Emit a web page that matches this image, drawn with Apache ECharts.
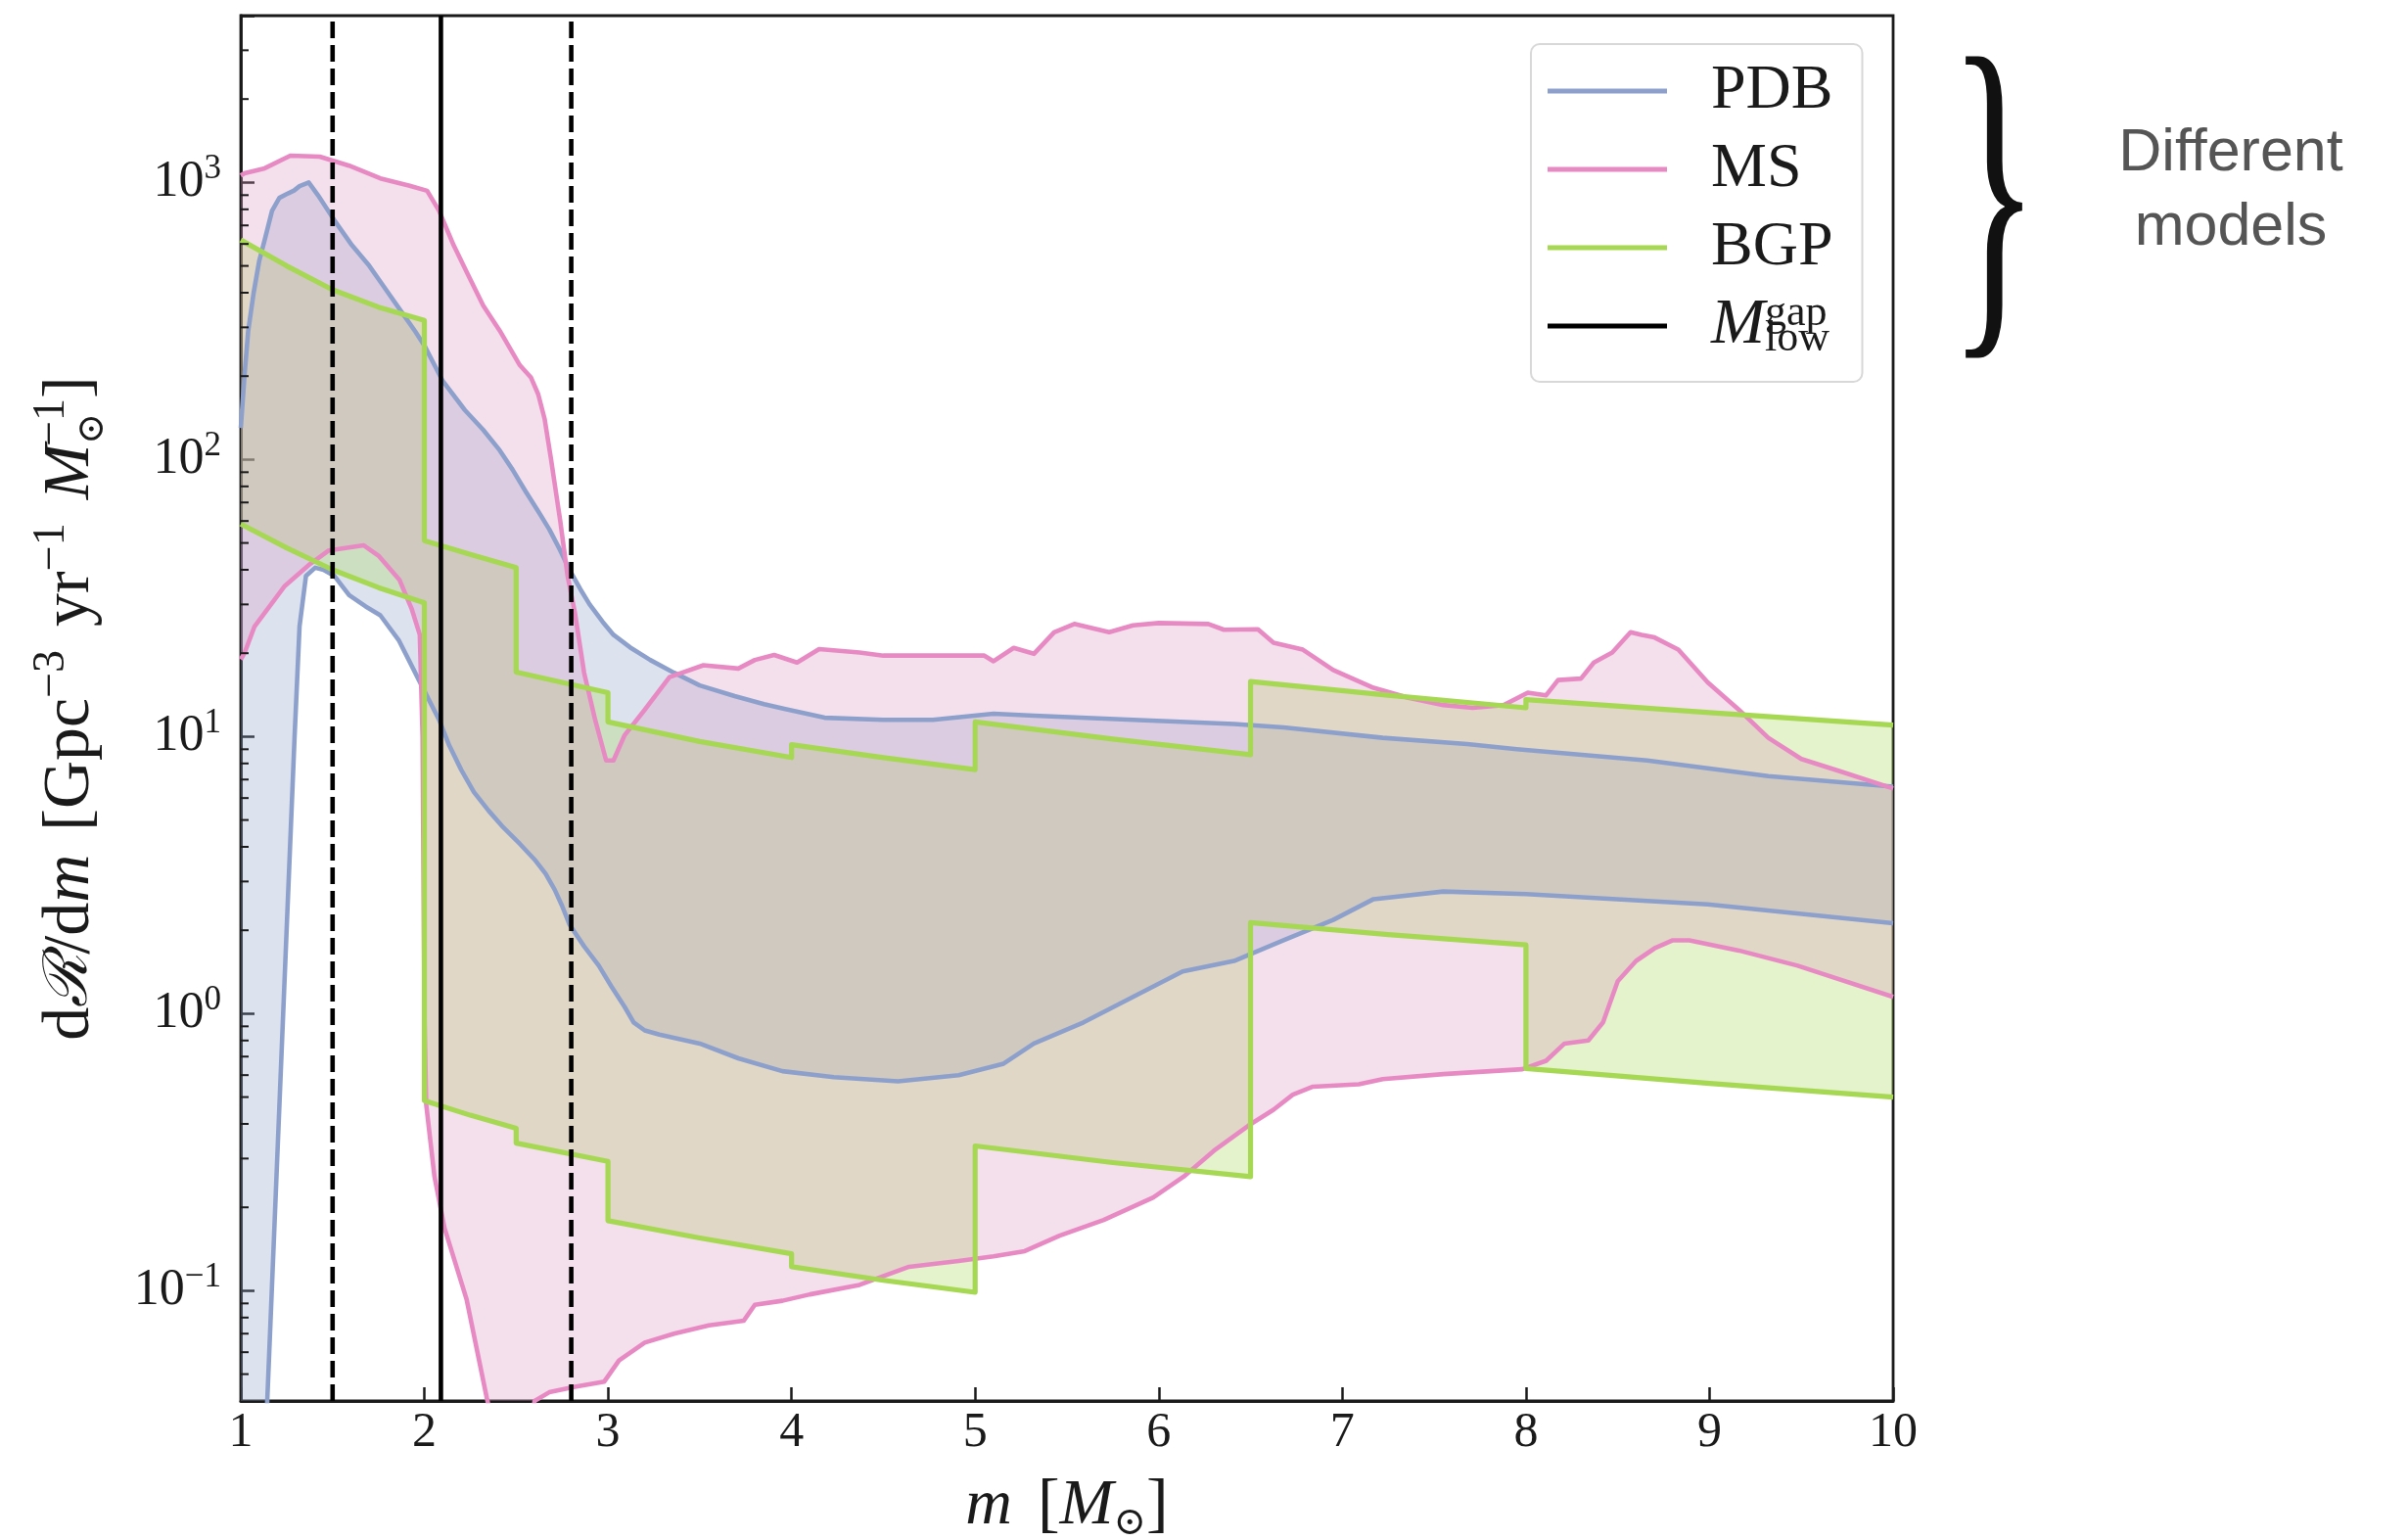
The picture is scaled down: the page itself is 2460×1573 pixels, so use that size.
<!DOCTYPE html>
<html>
<head>
<meta charset="utf-8">
<script src="https://cdn.jsdelivr.net/npm/echarts@6/dist/echarts.min.js"></script>
<style>
  html, body { margin: 0; padding: 0; background: #ffffff; }
  #chart { width: 2460px; height: 1573px; }
</style>
</head>
<body>
<div id="chart"></div>
<script>
// Merger-rate density bands dR/dm for three population models, [m, value] pairs.
const pdbUpper = [
  [1.00,130],[1.02,200],[1.04,290],[1.07,400],[1.10,520],[1.13,620],[1.17,790],[1.21,880],
  [1.26,915],[1.29,935],[1.32,970],[1.37,1000],[1.42,900],[1.51,730],[1.60,600],[1.70,500],
  [1.78,420],[1.87,345],[1.95,290],[2.00,258],[2.10,192],[2.22,151],[2.32,128],[2.41,108],
  [2.48,92],[2.55,77],[2.62,65],[2.68,56],[2.74,47],[2.79,40],[2.85,34],[2.90,30],[2.97,26],
  [3.03,23.3],[3.12,21],[3.23,18.9],[3.36,17],[3.50,15.3],[3.69,14.0],[3.85,13.1],[3.96,12.6],
  [4.18,11.7],[4.50,11.5],[4.77,11.5],[5.10,12.1],[5.32,11.9],[5.86,11.5],[6.41,11.1],
  [6.68,10.8],[7.22,9.9],[7.68,9.4],[7.95,9.0],[8.66,8.2],[9.32,7.2],[10.0,6.6]
];
const pdbLower = [
  [1.00,0.0003],[1.144,0.04],[1.293,10],[1.32,25],[1.355,38],[1.405,40.7],[1.45,40],
  [1.51,38],[1.59,32.4],[1.68,29.5],[1.76,27.4],[1.86,22.3],[1.97,16],[2.08,11.5],
  [2.135,9.3],[2.20,7.6],[2.27,6.3],[2.35,5.4],[2.43,4.7],[2.52,4.1],[2.60,3.6],[2.66,3.2],
  [2.71,2.8],[2.75,2.45],[2.79,2.1],[2.87,1.75],[2.95,1.49],[3.02,1.25],[3.09,1.06],
  [3.14,0.93],[3.20,0.87],[3.28,0.84],[3.50,0.78],[3.71,0.69],[3.95,0.62],[4.23,0.59],
  [4.58,0.57],[4.91,0.60],[5.155,0.66],[5.32,0.78],[5.59,0.93],[5.86,1.15],[6.13,1.42],
  [6.41,1.55],[6.68,1.84],[6.95,2.18],[7.17,2.59],[7.55,2.76],[8.00,2.70],[8.99,2.48],
  [10.0,2.12]
];
const msUpper = [
  [1.00,1060],[1.02,1080],[1.13,1125],[1.27,1250],[1.43,1240],[1.59,1150],[1.76,1035],
  [1.92,973],[2.015,933],[2.08,790],[2.16,592],[2.24,461],[2.32,360],[2.41,292],[2.52,219],
  [2.58,198],[2.62,172],[2.655,140],[2.69,100],[2.74,60],[2.78,38],[2.82,28],[2.87,17],
  [2.93,11.5],[2.99,8.2],[3.03,8.2],[3.09,10.1],[3.20,12.5],[3.335,16.4],[3.52,18.1],
  [3.71,17.6],[3.80,18.9],[3.905,19.7],[4.03,18.5],[4.15,20.7],[4.37,20.1],[4.50,19.6],
  [4.72,19.6],[5.05,19.6],[5.10,18.7],[5.21,20.9],[5.32,19.9],[5.43,23.8],[5.54,25.5],
  [5.73,23.8],[5.86,25.2],[6.00,25.7],[6.27,25.5],[6.355,24.3],[6.54,24.4],[6.625,21.8],
  [6.785,20.6],[6.95,17.4],[7.17,15.0],[7.36,13.8],[7.55,13.0],[7.71,12.7],[7.88,13.0],
  [8.01,14.4],[8.11,14.1],[8.175,16.0],[8.30,16.2],[8.37,18.5],[8.47,20.1],[8.57,23.8],
  [8.63,23.3],[8.70,22.8],[8.83,20.6],[8.99,15.7],[9.16,12.5],[9.32,9.9],[9.50,8.3],
  [9.71,7.5],[10.0,6.5]
];
const msLower = [
  [1.00,19],[1.02,20],[1.075,25],[1.24,35],[1.37,41.6],[1.48,47],[1.67,49],[1.75,45],
  [1.865,36.7],[1.93,29],[1.975,23.3],[1.99,10],[2.00,1.0],[2.01,0.47],[2.055,0.258],
  [2.11,0.168],[2.23,0.093],[2.34,0.041],[2.45,0.02],[2.55,0.025],[2.60,0.04],[2.68,0.043],
  [2.82,0.045],[2.98,0.047],[3.06,0.056],[3.20,0.065],[3.36,0.070],[3.55,0.075],[3.74,0.078],
  [3.80,0.089],[3.95,0.092],[4.10,0.097],[4.37,0.105],[4.64,0.122],[4.91,0.128],[5.10,0.133],
  [5.27,0.139],[5.46,0.158],[5.70,0.18],[5.97,0.217],[6.135,0.258],[6.30,0.32],[6.49,0.395],
  [6.625,0.45],[6.73,0.51],[6.84,0.545],[7.09,0.556],[7.22,0.58],[7.55,0.605],[7.98,0.63],
  [8.11,0.676],[8.21,0.78],[8.34,0.80],[8.42,0.93],[8.50,1.31],[8.60,1.55],[8.70,1.72],
  [8.80,1.84],[8.89,1.84],[9.16,1.69],[9.48,1.49],[10.0,1.15]
];
const bgpUpper = [
  [1.0,620],[1.25,500],[1.5,410],[1.75,355],[2.0,318],[2.0,51],[2.25,45.5],[2.5,40.7],
  [2.5,17.1],[3.0,14.4],[3.0,11.3],[3.5,9.6],[4.0,8.4],[4.0,9.35],[4.5,8.4],[5.0,7.6],
  [5.0,11.3],[5.75,9.8],[6.5,8.6],[6.5,15.8],[7.25,14.1],[8.0,12.7],[8.0,13.6],[9.0,12.2],
  [10.0,11.0]
];
const bgpLower = [
  [1.0,58.5],[1.25,48],[1.5,40],[1.75,34.5],[2.0,30.4],[2.0,0.485],[2.25,0.43],[2.5,0.386],
  [2.5,0.341],[3.0,0.293],[3.0,0.179],[3.5,0.155],[4.0,0.136],[4.0,0.122],[4.5,0.109],
  [5.0,0.0987],[5.0,0.333],[5.75,0.29],[6.5,0.258],[6.5,2.13],[7.25,1.93],[8.0,1.77],
  [8.0,0.634],[9.0,0.56],[10.0,0.50]
];

// Reference masses (vertical lines)
const massLowDashed = 1.5;
const massGapLow = 2.09;
const massHighDashed = 2.8;

// Axis ranges and ticks
const xRange = [1, 10];
const yRange = [0.04, 4000];
const yMajorTicks = [0.1, 1, 10, 100, 1000];
const yMinorTicks = [
  0.05,0.06,0.07,0.08,0.09, 0.2,0.3,0.4,0.5,0.6,0.7,0.8,0.9,
  2,3,4,5,6,7,8,9, 20,30,40,50,60,70,80,90, 200,300,400,500,600,700,800,900, 2000,3000
];

const SERIF = '"Liberation Serif", "DejaVu Serif", serif';
const INK = '#1a1a1a';
const COL = { pdb: '#8da0cb', ms: '#e78ac3', bgp: '#a6d854' };
const FILL = {
  pdb: 'rgba(141,160,203,0.30)',
  ms: 'rgba(218,152,192,0.30)',
  bgp: 'rgba(166,216,84,0.30)'
};

// Shaded credible band between an upper and a lower curve
function band(upper, lower, fill) {
  const ring = upper.concat(lower.slice().reverse());
  return {
    type: 'custom',
    clip: true,
    silent: true,
    z: 1,
    data: ring,
    encode: { x: 0, y: 1 },
    renderItem: function (params, api) {
      if (params.dataIndex !== 0) return null;
      const pts = ring.map(function (p) { return api.coord(p); });
      return { type: 'polygon', shape: { points: pts }, style: { fill: fill, stroke: null } };
    }
  };
}

function edge(name, pts, color, width) {
  return {
    type: 'line', name: name, data: pts, color: color,
    symbol: 'none', showSymbol: false, z: 3, clip: true,
    lineStyle: { color: color, width: width, join: 'round' },
    emphasis: { disabled: true }
  };
}

function vline(name, x, dashed) {
  return {
    type: 'line', name: name, data: [[x, yRange[0]], [x, yRange[1]]], color: '#000',
    symbol: 'none', showSymbol: false, z: 4,
    lineStyle: { color: '#000', width: 4.6, type: dashed ? [17, 7] : 'solid' },
    emphasis: { disabled: true }
  };
}

// Log-axis minor ticks drawn just inside the left spine
const minorTickSeries = {
  type: 'custom', silent: true, z: 5,
  data: yMinorTicks.map(function (v) { return [xRange[0], v]; }),
  encode: { x: 0, y: 1 },
  renderItem: function (params, api) {
    const p = api.coord([api.value(0), api.value(1)]);
    return { type: 'line', shape: { x1: p[0], y1: p[1], x2: p[0] + 8, y2: p[1] },
             style: { stroke: INK, lineWidth: 2 } };
  }
};

const chart = echarts.init(document.getElementById('chart'), null, { renderer: 'canvas' });

const option = {
  animation: false,
  backgroundColor: '#ffffff',
  grid: {
    left: 246, top: 16, width: 1688, height: 1415,
    show: true, borderColor: INK, borderWidth: 2.8, backgroundColor: 'transparent',
    outerBoundsMode: 'none'
  },
  xAxis: {
    type: 'value', min: xRange[0], max: xRange[1], interval: 1,
    axisLine: { onZero: false, lineStyle: { color: INK, width: 2.8 } },
    axisTick: { inside: true, length: 14, lineStyle: { color: INK, width: 2.5 } },
    splitLine: { show: false },
    axisLabel: { margin: 8, color: INK, fontFamily: SERIF, fontSize: 50 },
    name: '{mi|m}{sp| }{d|[}{mi|M}{sb|⊙}{d|]}',
    nameLocation: 'middle', nameGap: 70,
    nameTextStyle: {
      rich: {
        mi: { fontFamily: SERIF, fontStyle: 'italic', fontSize: 66, lineHeight: 76, color: INK },
        sp: { fontFamily: SERIF, fontSize: 66, lineHeight: 76, width: 26 },
        d: { fontFamily: SERIF, fontSize: 68, lineHeight: 76, color: INK },
        sb: { fontFamily: '"DejaVu Serif", serif', fontSize: 40, lineHeight: 40, verticalAlign: 'bottom', color: INK }
      }
    }
  },
  yAxis: {
    type: 'log', logBase: 10, min: yRange[0], max: yRange[1],
    axisLine: { onZero: false, lineStyle: { color: INK, width: 2.8 } },
    axisTick: { inside: true, length: 14, lineStyle: { color: INK, width: 2.5 } },
    splitLine: { show: false },
    axisLabel: {
      margin: 20,
      formatter: function (v) {
        const hit = yMajorTicks.find(function (t) { return Math.abs(Math.log10(v) - Math.log10(t)) < 1e-6; });
        if (hit === undefined) return '';
        const e = Math.round(Math.log10(hit));
        return '{b|10}{s|' + (e < 0 ? '−' : '') + Math.abs(e) + '}';
      },
      rich: {
        b: { fontFamily: SERIF, fontSize: 52, lineHeight: 62, color: INK },
        s: { fontFamily: SERIF, fontSize: 35, lineHeight: 35, verticalAlign: 'top', color: INK }
      }
    },
    name: '{d|d}{R|ℛ}{d|/d}{mi|m}{w|}{d|[Gpc}{s|−3}{w|}{d|yr}{s|−1}{w|}{mi|M}{sb|⊙}{s2|−1}{d|]}',
    nameLocation: 'middle', nameRotate: 90, nameGap: 132,
    nameTextStyle: {
      rich: {
        d: { fontFamily: SERIF, fontSize: 68, lineHeight: 84, color: INK },
        R: { fontFamily: '"DejaVu Serif", serif', fontStyle: 'italic', fontSize: 62, lineHeight: 84, color: INK },
        mi: { fontFamily: SERIF, fontStyle: 'italic', fontSize: 68, lineHeight: 84, color: INK },
        w: { width: 24, lineHeight: 84 },
        s: { fontFamily: SERIF, fontSize: 46, lineHeight: 46, verticalAlign: 'top', color: INK },
        s2: { fontFamily: SERIF, fontSize: 46, lineHeight: 46, verticalAlign: 'top', color: INK, padding: [0, 0, 0, -34] },
        sb: { fontFamily: '"DejaVu Serif", serif', fontSize: 38, lineHeight: 38, verticalAlign: 'bottom', color: INK }
      }
    }
  },
  legend: {
    data: ['PDB', 'MS', 'BGP', 'Mgap'],
    orient: 'vertical', left: 1564, top: 45,
    icon: 'rect', itemWidth: 122, itemHeight: 5, itemGap: 10,
    selectedMode: false,
    backgroundColor: 'rgba(255,255,255,0.85)',
    borderColor: '#d8d8d8', borderWidth: 2, borderRadius: 9,
    padding: [13, 30, 22, 17],
    formatter: function (n) {
      return '{gap|}' + (n === 'Mgap' ? '{mi|M}{sb|low}{sp|gap}' : '{t|' + n + '}');
    },
    textStyle: {
      fontFamily: SERIF, fontSize: 64, color: INK, lineHeight: 70,
      rich: {
        gap: { width: 40, lineHeight: 70 },
        t: { fontFamily: SERIF, fontSize: 64, lineHeight: 70, color: INK },
        mi: { fontFamily: SERIF, fontStyle: 'italic', fontSize: 66, lineHeight: 70, color: INK },
        sb: { fontFamily: SERIF, fontSize: 44, lineHeight: 20, verticalAlign: 'bottom', color: INK },
        sp: { fontFamily: SERIF, fontSize: 44, lineHeight: 54, verticalAlign: 'top', color: INK, padding: [0, 0, 0, -66] }
      }
    }
  },
  graphic: [
    {
      type: 'text', x: 2037, y: 218, scaleX: 0.52, z: 10, silent: true,
      style: { text: '}', fill: '#111', font: '372px "Liberation Serif"', textAlign: 'center', textVerticalAlign: 'middle' }
    },
    {
      type: 'text', x: 2279, y: 119, z: 10, silent: true,
      style: { text: 'Different\nmodels', fill: '#555555', font: '61px "Liberation Sans"', lineHeight: 76,
               textAlign: 'center', textVerticalAlign: 'top' }
    }
  ],
  series: [
    // blue first, then green, then pink on top
    band(pdbUpper, pdbLower, FILL.pdb),
    band(bgpUpper, bgpLower, FILL.bgp),
    band(msUpper, msLower, FILL.ms),
    edge('PDB', pdbUpper, COL.pdb, 4.6),
    edge('PDB', pdbLower, COL.pdb, 4.6),
    edge('MS', msUpper, COL.ms, 4.6),
    edge('MS', msLower, COL.ms, 4.6),
    edge('BGP', bgpUpper, COL.bgp, 5.2),
    edge('BGP', bgpLower, COL.bgp, 5.2),
    vline('lowDashed', massLowDashed, true),
    vline('Mgap', massGapLow, false),
    vline('highDashed', massHighDashed, true),
    minorTickSeries
  ]
};

chart.setOption(option);
</script>
</body>
</html>
